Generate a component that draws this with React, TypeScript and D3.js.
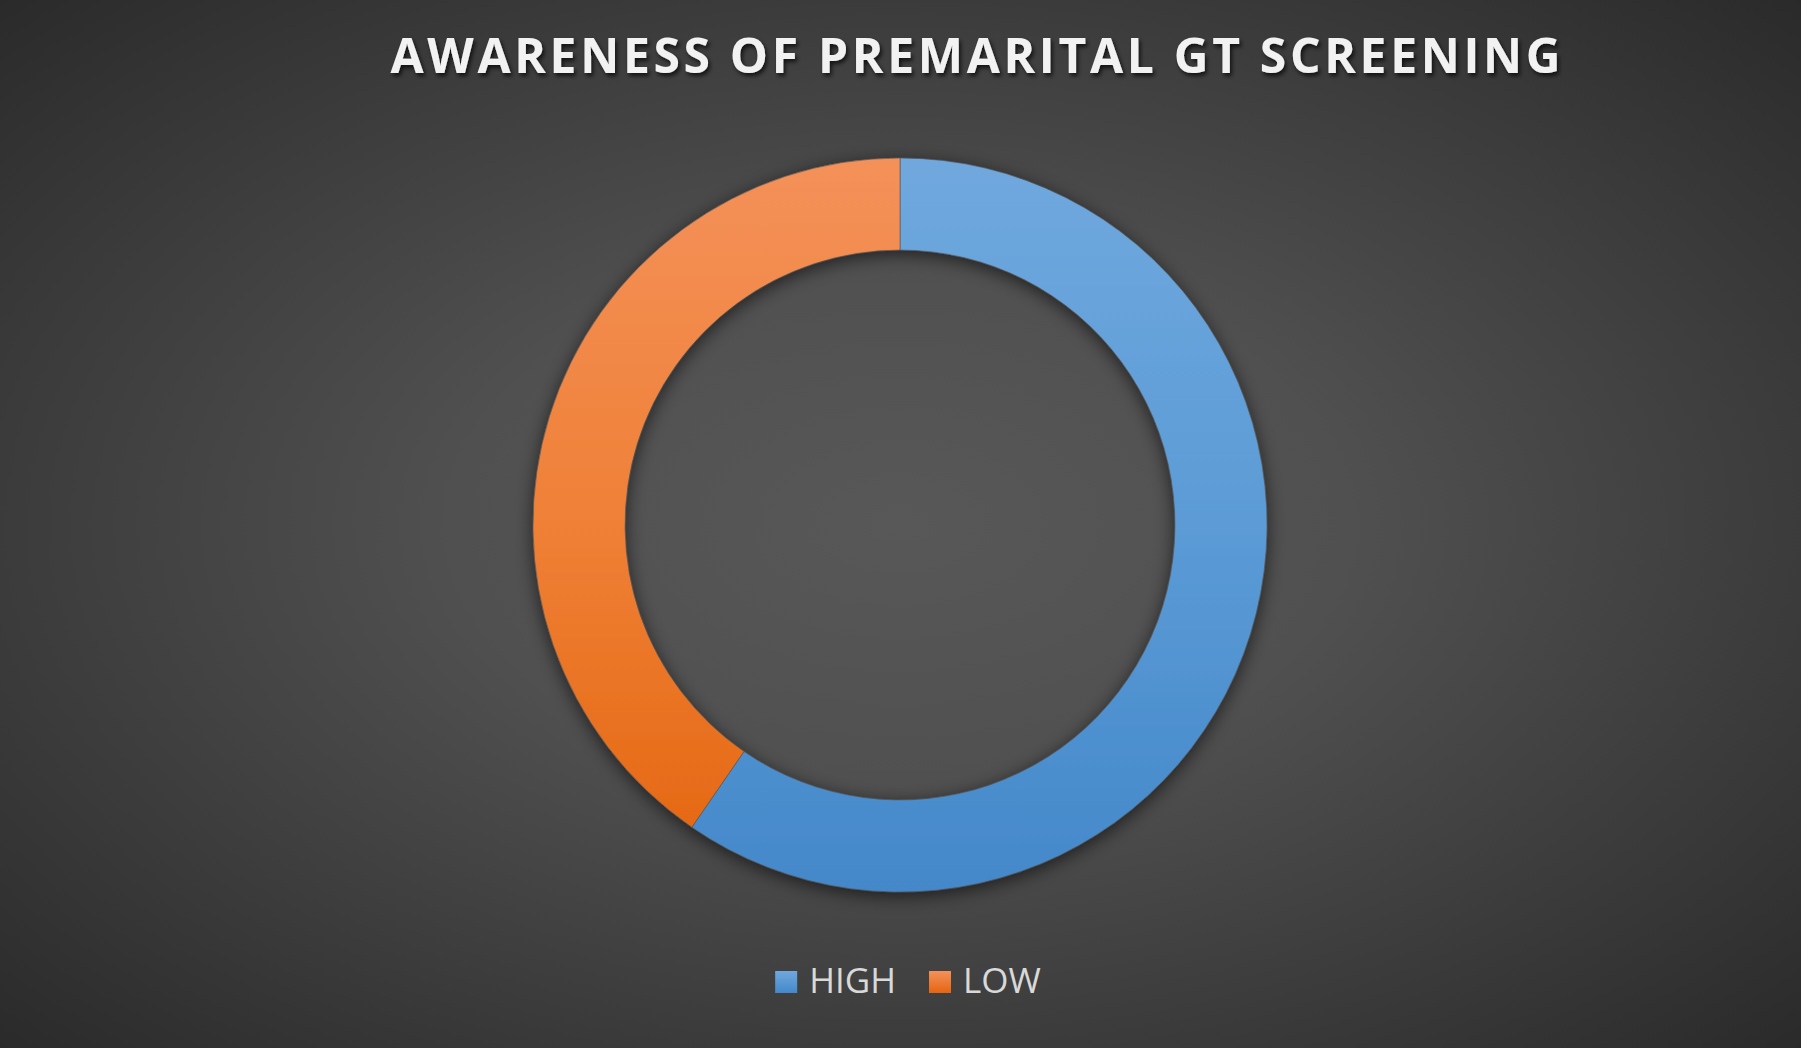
// @ts-nocheck
import React, { useEffect, useRef } from "react";
import * as d3 from "d3";

const categories = ["HIGH", "LOW"];
const values = [59.6, 40.4];
const title = "AWARENESS OF PREMARITAL GT SCREENING";

const App = () => {
  const svgRef = useRef();

  useEffect(() => {
    const width = 1801,
      height = 1048;
    const svg = d3.select(svgRef.current);
    svg.selectAll("*").remove();

    const defs = svg.append("defs");

    // background
    const bg = defs
      .append("radialGradient")
      .attr("id", "bg")
      .attr("cx", "50%")
      .attr("cy", "50%")
      .attr("r", "71%");
    bg.append("stop").attr("offset", "0%").attr("stop-color", "#585858");
    bg.append("stop").attr("offset", "35%").attr("stop-color", "#505050");
    bg.append("stop").attr("offset", "100%").attr("stop-color", "#2a2a2a");

    svg
      .append("rect")
      .attr("width", width)
      .attr("height", height)
      .attr("fill", "url(#bg)");

    const cx = 900,
      cy = 525,
      outer = 367,
      inner = 275;

    const colors = [
      ["#70a8de", "#5b9bd6", "#4488ca"],
      ["#f4915a", "#ef8036", "#e4650f"]
    ];
    colors.forEach((c, i) => {
      // gradient coordinates are in the donut group's local space
      const g = defs
        .append("linearGradient")
        .attr("id", "g" + i)
        .attr("gradientUnits", "userSpaceOnUse")
        .attr("x1", 0)
        .attr("y1", -outer)
        .attr("x2", 0)
        .attr("y2", outer);
      g.append("stop").attr("offset", "0%").attr("stop-color", c[0]);
      g.append("stop").attr("offset", "50%").attr("stop-color", c[1]);
      g.append("stop").attr("offset", "100%").attr("stop-color", c[2]);
    });

    const shadow = defs
      .append("filter")
      .attr("id", "shadow")
      .attr("x", "-20%")
      .attr("y", "-20%")
      .attr("width", "140%")
      .attr("height", "140%");
    shadow
      .append("feDropShadow")
      .attr("dx", 0)
      .attr("dy", 4)
      .attr("stdDeviation", 9)
      .attr("flood-color", "#000")
      .attr("flood-opacity", 0.6);

    const tshadow = defs.append("filter").attr("id", "tshadow");
    tshadow
      .append("feDropShadow")
      .attr("dx", 2)
      .attr("dy", 3)
      .attr("stdDeviation", 2)
      .attr("flood-color", "#000")
      .attr("flood-opacity", 0.7);

    // title
    svg
      .append("text")
      .attr("x", width / 2 + 75)
      .attr("y", 73)
      .attr("text-anchor", "middle")
      .attr("font-family", "'Open Sans', sans-serif")
      .attr("font-weight", 700)
      .attr("font-size", 48)
      .attr("fill", "#f2f2f2")
      .attr("textLength", 1170)
      .attr("lengthAdjust", "spacing")
      .attr("filter", "url(#tshadow)")
      .text(title);

    // donut
    const pie = d3
      .pie()
      .sort(null)
      .value(d => d);
    const arc = d3.arc().innerRadius(inner).outerRadius(outer);

    svg
      .append("g")
      .attr("transform", `translate(${cx},${cy})`)
      .attr("filter", "url(#shadow)")
      .selectAll("path")
      .data(pie(values))
      .join("path")
      .attr("d", arc)
      .attr("fill", (d, i) => `url(#g${i})`)
      .attr("stroke", "#555")
      .attr("stroke-width", 0.6);

    // legend
    const legend = svg.append("g");
    let x = 0;
    categories.forEach((c, i) => {
      const lg = defs
        .append("linearGradient")
        .attr("id", "lg" + i)
        .attr("x1", 0)
        .attr("y1", 0)
        .attr("x2", 0)
        .attr("y2", 1);
      lg.append("stop").attr("offset", "0%").attr("stop-color", colors[i][0]);
      lg.append("stop").attr("offset", "100%").attr("stop-color", colors[i][2]);
      const item = legend.append("g").attr("transform", `translate(${x},0)`);
      item
        .append("rect")
        .attr("x", 0)
        .attr("y", -22)
        .attr("width", 22)
        .attr("height", 22)
        .attr("fill", `url(#lg${i})`);
      const t = item
        .append("text")
        .attr("x", 34)
        .attr("y", 0)
        .attr("font-family", "'Open Sans', sans-serif")
        .attr("font-size", 35)
        .attr("fill", "#d9d9d9")
        .text(c);
      x += 34 + t.node().getComputedTextLength() + 33;
    });
    const bb = legend.node().getBBox();
    legend.attr("transform", `translate(${908 - bb.width / 2},993)`);
  }, []);

  return (
    <svg
      ref={svgRef}
      width={1801}
      height={1048}
      style={{ position: "absolute", left: 0, top: 0, display: "block" }}
    />
  );
};

export default App;
